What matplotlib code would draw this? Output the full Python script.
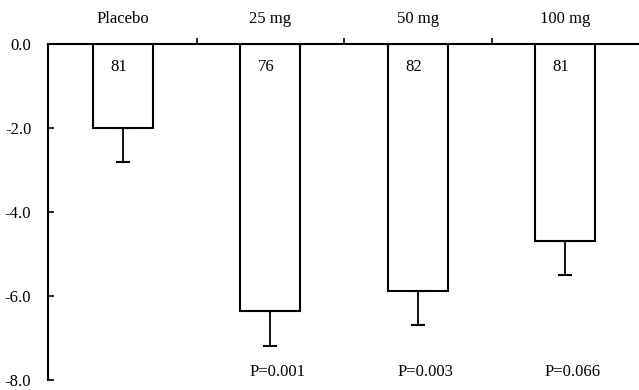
import numpy as np
import matplotlib.pyplot as plt

groups = ['Placebo', '25 mg', '50 mg', '100 mg']
means = [-2.0, -6.35, -5.88, -4.7]
errors = [0.8, 0.83, 0.82, 0.8]
n_pts = ['81', '76', '82', '81']
p_vals = ['', 'P=0.001', 'P=0.003', 'P=0.066']

plt.rcParams['font.family'] = ['Liberation Serif', 'DejaVu Serif']

fig = plt.figure(figsize=(6.39, 3.9), dpi=100)
ax = fig.add_axes([48/639, 10/390, 1 - 48/639, 336/390])

x = np.arange(len(groups))
ax.bar(x, means, width=0.405, color='white', edgecolor='black', linewidth=1.5, zorder=2)
ax.errorbar(x, means, yerr=[errors, [0]*len(errors)], fmt='none', ecolor='black',
            elinewidth=1.3, capsize=5, capthick=1.5, zorder=1)

for xi, n in zip(x, n_pts):
    ax.text(xi - 0.03, -0.55, n, ha='center', va='center', fontsize=12)
for xi, p in zip(x, p_vals):
    ax.text(xi + 0.05, -7.8, p, ha='center', va='center', fontsize=12)

ax.set_xlim(-0.507, 3.5)
ax.set_ylim(-8.0, 0.0)
ax.set_yticks([0, -2, -4, -6, -8])
ax.set_yticklabels(['0.0', '-2.0', '-4.0', '-6.0', '-8.0'], fontsize=12)
ax.tick_params(axis='y', direction='in', length=4, width=1.2, pad=12)

# group names sit above the top axis line
ax.xaxis.tick_top()
ax.set_xticks(x)
ax.set_xticklabels(groups, fontsize=12)
ax.set_xticks(x[:-1] + 0.5, minor=True)
ax.tick_params(axis='x', which='major', length=0, pad=12)
ax.tick_params(axis='x', which='minor', direction='out', length=4, width=1.2)

for side in ['bottom', 'right']:
    ax.spines[side].set_visible(False)
ax.spines['top'].set_linewidth(1.5)
ax.spines['left'].set_linewidth(1.5)

fig.savefig('out.png', dpi=100)
